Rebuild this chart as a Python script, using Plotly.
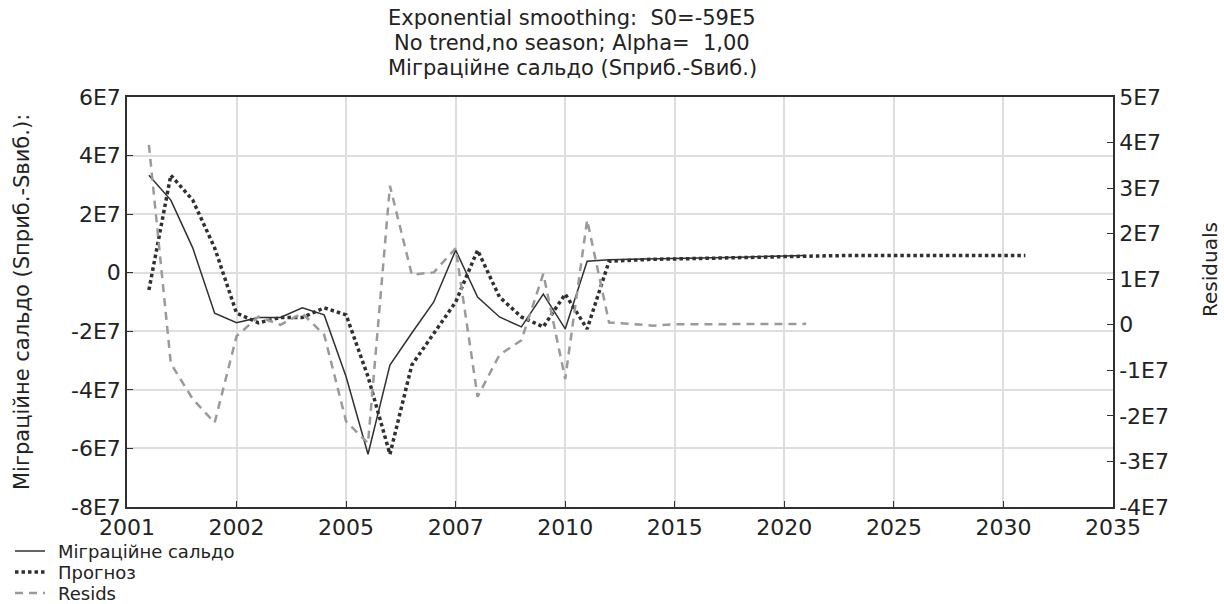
import plotly.graph_objects as go

# case numbers (x axis is the case index, labelled with years)
obs_case = list(range(1, 32))
fc_case = list(range(1, 42))

tick_pos = [0, 5, 10, 15, 20, 25, 30, 35, 40, 45]
tick_lbl = ["2001", "2002", "2005", "2007", "2010", "2015", "2020", "2025", "2030", "2035"]

# Міграційне сальдо (observed)
saldo = [33.3e6, 24.8e6, 8.5e6, -13.8e6, -17.1e6, -15.3e6, -15.3e6, -12.0e6, -14.4e6, -35.5e6,
         -62.0e6, -31.5e6, -20.6e6, -10.0e6, 7.7e6, -8.3e6, -15.1e6, -18.5e6, -7.3e6, -19.2e6,
         3.9e6, 4.4e6, 4.6e6, 4.7e6, 4.8e6, 4.9e6, 5.1e6, 5.3e6, 5.5e6, 5.7e6, 5.9e6]

# Прогноз (alpha = 1 -> one step behind the data, then flat)
prognoz = [-5.9e6, 33.3e6, 24.8e6, 8.5e6, -13.8e6, -17.1e6, -15.3e6, -15.3e6, -12.0e6, -14.4e6,
           -35.5e6, -62.0e6, -31.5e6, -20.6e6, -10.0e6, 7.7e6, -8.3e6, -15.1e6, -18.5e6, -7.3e6,
           -19.2e6, 3.9e6, 4.4e6, 4.6e6, 4.7e6, 4.8e6, 4.9e6, 5.1e6, 5.3e6, 5.5e6,
           5.7e6, 5.9e6, 5.9e6, 5.9e6, 5.9e6, 5.9e6, 5.9e6, 5.9e6, 5.9e6, 5.9e6, 5.9e6]

# Resids (right axis)
resids = [39.5e6, -8.5e6, -16.3e6, -21.5e6, -2.5e6, 1.8e6, 0.0, 2.5e6, -2.2e6, -21.2e6,
          -26.0e6, 30.5e6, 11.0e6, 11.5e6, 16.8e6, -15.8e6, -6.6e6, -3.4e6, 11.2e6, -11.9e6,
          23.0e6, 0.5e6, 0.2e6, -0.2e6, 0.1e6, 0.1e6, 0.2e6, 0.2e6, 0.2e6, 0.2e6, 0.2e6]

left_vals = [6e7, 4e7, 2e7, 0, -2e7, -4e7, -6e7, -8e7]
left_lbl = ["6E7", "4E7", "2E7", "0", "-2E7", "-4E7", "-6E7", "-8E7"]
right_vals = [5e7, 4e7, 3e7, 2e7, 1e7, 0, -1e7, -2e7, -3e7, -4e7]
right_lbl = ["5E7", "4E7", "3E7", "2E7", "1E7", "0", "-1E7", "-2E7", "-3E7", "-4E7"]

title_lines = ["Exponential smoothing:  S0=-59E5",
               "No trend,no season; Alpha=  1,00",
               "Міграційне сальдо (Sприб.-Sвиб.)"]

FONT = "DejaVu Sans"
DARK = "#303030"
TXT = "#222"

W, H = 1224, 604
L, R, T, B = 127, 111, 97, 97


def px(x):
    return (x - L) / (W - L - R)


def py(y):
    return (H - B - y) / (H - T - B)


styles = [
    ("Міграційне сальдо", dict(color=DARK, width=1.5)),
    ("Прогноз", dict(color=DARK, width=3.5, dash="3.5px,3px")),
    ("Resids", dict(color="#9a9a9a", width=2.5, dash="8px,6px")),
]

fig = go.Figure()
fig.add_trace(go.Scatter(x=obs_case, y=saldo, mode="lines", name=styles[0][0], line=styles[0][1]))
fig.add_trace(go.Scatter(x=fc_case, y=prognoz, mode="lines", name=styles[1][0], line=styles[1][1]))
fig.add_trace(go.Scatter(x=obs_case, y=resids, mode="lines", name=styles[2][0], yaxis="y2",
                         line=styles[2][1]))

axis_common = dict(showline=True, linecolor=DARK, linewidth=1.5, ticks="inside", ticklen=6,
                   tickcolor=DARK, zeroline=False, tickfont=dict(size=22, color=TXT))

fig.update_layout(
    width=W, height=H,
    margin=dict(l=L, r=R, t=T, b=B, autoexpand=False),
    paper_bgcolor="white", plot_bgcolor="white",
    font=dict(family=FONT, size=20, color=TXT),
    showlegend=False,
    xaxis=dict(range=[0, 45], tickvals=tick_pos, ticktext=tick_lbl, mirror=True,
               showgrid=True, gridcolor="#dedede", gridwidth=1.5, **axis_common),
    yaxis=dict(range=[-8e7, 6e7], tickvals=left_vals, ticktext=left_lbl,
               showgrid=True, gridcolor="#dedede", gridwidth=1.5, **axis_common),
    yaxis2=dict(range=[-4e7, 5e7], tickvals=right_vals, ticktext=right_lbl,
                overlaying="y", side="right", showgrid=False, **axis_common),
)

# three-line title
for i, line in enumerate(title_lines):
    fig.add_annotation(text=line, xref="paper", yref="paper", x=px(572), y=py(18 + 25 * i),
                       xanchor="center", yanchor="middle", showarrow=False,
                       font=dict(family=FONT, size=21, color=TXT))

# axis titles
fig.add_annotation(text="Міграційне сальдо (Sприб.-Sвиб.):", textangle=-90,
                   xref="paper", yref="paper", x=px(22), y=0.5,
                   xanchor="center", yanchor="middle", showarrow=False,
                   font=dict(family=FONT, size=21, color=TXT))
fig.add_annotation(text="Residuals", textangle=-90,
                   xref="paper", yref="paper", x=px(1210), y=py(270),
                   xanchor="center", yanchor="middle", showarrow=False,
                   font=dict(family=FONT, size=20, color=TXT))

# legend below the plot, bottom-left
for i, (name, ln) in enumerate(styles):
    yy = py(551 + 21 * i)
    fig.add_shape(type="line", xref="paper", yref="paper", x0=px(15), x1=px(45), y0=yy, y1=yy,
                  line=ln)
    fig.add_annotation(text=name, xref="paper", yref="paper", x=px(57), y=yy,
                       xanchor="left", yanchor="middle", showarrow=False, borderpad=0,
                       font=dict(family=FONT, size=18, color=TXT))

# the page body has an 8px default margin; drop it so the figure fills the window
fig.write_html("out.html", config={"displayModeBar": False},
               post_script="document.body.style.margin='0';")
